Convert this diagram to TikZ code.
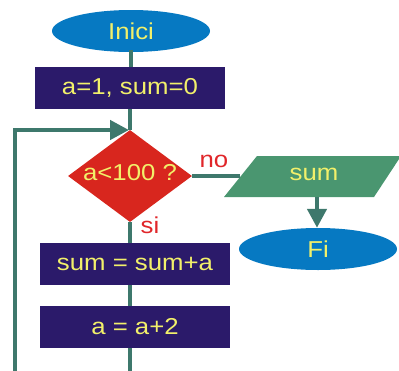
\documentclass[tikz,border=0pt]{standalone}
\usepackage{fontspec}
\setmainfont{Liberation Sans}[FakeStretch=1.12]
\usetikzlibrary{shapes.geometric,arrows.meta}
\definecolor{termblue}{HTML}{0679C2}
\definecolor{procnavy}{HTML}{2B1A6A}
\definecolor{decred}{HTML}{D8261E}
\definecolor{iogreen}{HTML}{4A9670}
\definecolor{linkteal}{HTML}{3E786C}
\definecolor{txtyellow}{HTML}{F2F06A}
\definecolor{lblred}{HTML}{E0262A}
\tikzset{
  term/.style={ellipse, fill=termblue, draw=none, minimum width=158pt, minimum height=42pt, inner sep=0pt, text=txtyellow, font=\fontsize{23}{23}\selectfont},
  proc/.style={rectangle, fill=procnavy, draw=none, minimum width=190pt, minimum height=42pt, inner sep=0pt, text=txtyellow, font=\fontsize{23}{23}\selectfont},
  txt/.style={text=txtyellow, font=\fontsize{23}{23}\selectfont, inner sep=0pt},
  lbl/.style={text=lblred, font=\fontsize{23}{23}\selectfont, inner sep=0pt},
  link/.style={draw=linkteal, line width=4.5pt},
  arr/.style={link, -{Triangle[width=19pt,length=19pt]}},
}
\begin{document}
\begin{tikzpicture}[x=1pt,y=-1pt]
\useasboundingbox (0,0) rectangle (399,370);
% nodes
\node[term] (inici) at (131,31) {Inici};
\node[proc] (b1) at (130,88) {a=1, sum=0};
\node[diamond, fill=decred, minimum width=124pt, minimum height=92pt, inner sep=0pt] (dec) at (130,176) {};
\node[txt] (dect) at (130,173) {a<100 ?};
\coordinate (p1) at (224,197);
\coordinate (p2) at (257,156);
\coordinate (p3) at (401,156);
\coordinate (p4) at (374,197);
\fill[iogreen] (p1) -- (p2) -- (p3) -- (p4) -- cycle;
\node[txt] (sumt) at (314,174) {sum};
\coordinate (pin) at (240,176);
\coordinate (pout) at (317,197);
\node[term] (fi) at (318,249) {Fi};
\node[proc] (b2) at (135,264) {sum = sum+a};
\node[proc] (b3) at (135,327) {a = a+2};
\coordinate (bot) at (130,372);
\coordinate (loopb) at (15,372);
\coordinate (loopt) at (15,130);
\coordinate (loopend) at (129,130);
% labels
\node[lbl] (no) at (214,161) {no};
\node[lbl] (si) at (150,225) {si};
% connectors
\draw[link] (inici.south -| 131,0) ++(0,-2) -- (b1.north -| 131,0);
\draw[link] (b1.south -| 130,0) -- (dec.north);
\draw[link] (dec.east) -- (pin);
\draw[arr] (pout) -- (fi.north -| pout);
\draw[link] (dec.south) -- (b2.north -| dec.south);
\draw[link] (b2.south -| dec.south) -- (b3.north -| dec.south);
\draw[link] (b3.south -| dec.south) -- (bot);
\draw[arr] (loopb) -- (loopt) -- (loopend);
\end{tikzpicture}
\end{document}
